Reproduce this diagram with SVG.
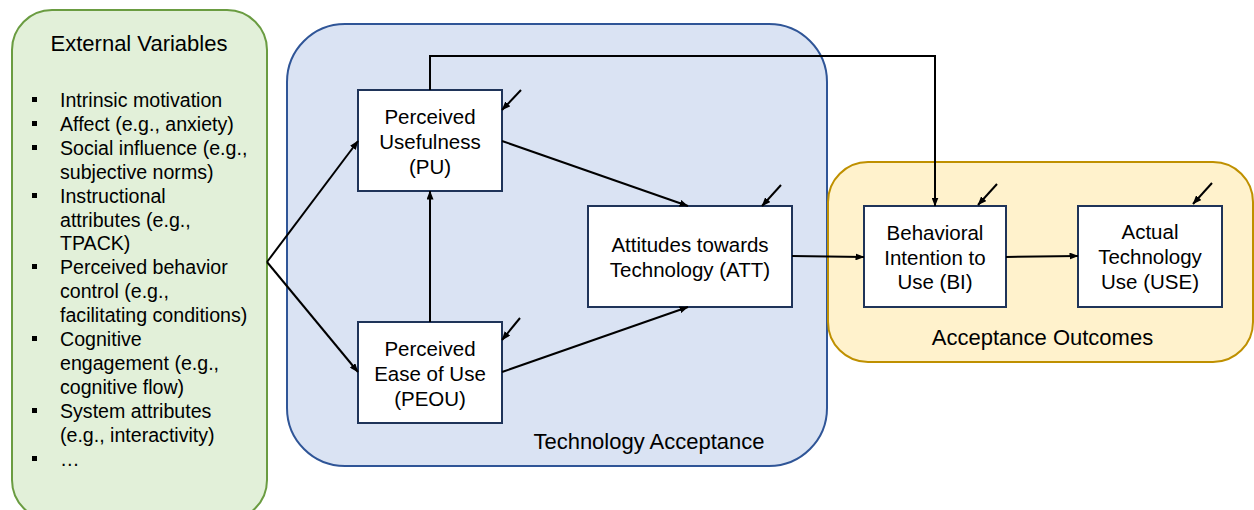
<svg xmlns="http://www.w3.org/2000/svg" width="1254" height="510" viewBox="0 0 1254 510">
<style>
text{font-family:"Liberation Sans",Arial,sans-serif;fill:#000}
.grp{font-size:22px;text-anchor:middle}
.node{font-size:20.5px;text-anchor:middle}
.bul{font-size:19.6px}
.box{fill:#fff;stroke:#1f3459;stroke-width:2}
.con{fill:none;stroke:#000;stroke-width:2;marker-end:url(#ah)}
</style>
<defs>
<marker id="ah" markerUnits="userSpaceOnUse" markerWidth="9" markerHeight="7" refX="8.5" refY="3.5" orient="auto">
<path d="M0,0 L9,3.5 L0,7 z" fill="#000"/>
</marker>
</defs>
<g id="external-variables">
<rect x="12" y="10" width="255" height="510" rx="40" fill="#e2f0d9" stroke="#6a9c41" stroke-width="2"/>
<text class="grp" x="139" y="51">External Variables</text>
<g fill="#000">
<rect x="32" y="97" width="5" height="5"/>
<rect x="32" y="121" width="5" height="5"/>
<rect x="32" y="145" width="5" height="5"/>
<rect x="32" y="193" width="5" height="5"/>
<rect x="32" y="264" width="5" height="5"/>
<rect x="32" y="336" width="5" height="5"/>
<rect x="32" y="408" width="5" height="5"/>
<rect x="32" y="456" width="5" height="5"/>
</g>
<text class="bul" x="60" y="107">Intrinsic motivation</text>
<text class="bul" x="60" y="130.9">Affect (e.g., anxiety)</text>
<text class="bul" x="60" y="154.8">Social influence (e.g.,</text>
<text class="bul" x="60" y="178.7">subjective norms)</text>
<text class="bul" x="60" y="202.6">Instructional</text>
<text class="bul" x="60" y="226.5">attributes (e.g.,</text>
<text class="bul" x="60" y="250.4">TPACK)</text>
<text class="bul" x="60" y="274.3">Perceived behavior</text>
<text class="bul" x="60" y="298.2">control (e.g.,</text>
<text class="bul" x="60" y="322.1">facilitating conditions)</text>
<text class="bul" x="60" y="346">Cognitive</text>
<text class="bul" x="60" y="369.9">engagement (e.g.,</text>
<text class="bul" x="60" y="393.8">cognitive flow)</text>
<text class="bul" x="60" y="417.7">System attributes</text>
<text class="bul" x="60" y="441.6">(e.g., interactivity)</text>
<text class="bul" x="60" y="465.5">…</text>
</g>
<g id="technology-acceptance">
<rect x="287" y="24" width="540" height="442" rx="58" fill="#dae3f3" stroke="#2f5597" stroke-width="2"/>
<text class="grp" x="649" y="448.5">Technology Acceptance</text>
</g>
<g id="acceptance-outcomes">
<rect x="828" y="162" width="425" height="200" rx="40" fill="#fff2cc" stroke="#bf9000" stroke-width="2"/>
<text class="grp" x="1042.5" y="345">Acceptance Outcomes</text>
</g>
<g id="PU">
<rect class="box" x="358" y="90" width="144" height="101"/>
<text class="node" x="430" y="123.5">Perceived</text>
<text class="node" x="430" y="148.5">Usefulness</text>
<text class="node" x="430" y="173.5">(PU)</text>
</g>
<g id="PEOU">
<rect class="box" x="358" y="322" width="144" height="101"/>
<text class="node" x="430" y="356">Perceived</text>
<text class="node" x="430" y="381">Ease of Use</text>
<text class="node" x="430" y="406">(PEOU)</text>
</g>
<g id="ATT">
<rect class="box" x="588" y="206" width="204" height="101"/>
<text class="node" x="690" y="252">Attitudes towards</text>
<text class="node" x="690" y="277">Technology (ATT)</text>
</g>
<g id="BI">
<rect class="box" x="864" y="206" width="142" height="101"/>
<text class="node" x="935" y="240">Behavioral</text>
<text class="node" x="935" y="264.7">Intention to</text>
<text class="node" x="935" y="289.4">Use (BI)</text>
</g>
<g id="USE">
<rect class="box" x="1078" y="206" width="144" height="101"/>
<text class="node" x="1150" y="239.3">Actual</text>
<text class="node" x="1150" y="264.3">Technology</text>
<text class="node" x="1150" y="289.3">Use (USE)</text>
</g>
<g id="connectors">
<path class="con" d="M267,262 L358,141"/>
<path class="con" d="M267,262 L358,372"/>
<path class="con" d="M430,322 L430,191"/>
<path class="con" d="M502,141 L688,206"/>
<path class="con" d="M502,372 L688,307"/>
<path class="con" d="M792,256 L864,257"/>
<path class="con" d="M430,90 L430,56 L935,56 L935,206"/>
<path class="con" d="M1006,257 L1078,256"/>
<path class="con" d="M521,90 L502,110"/>
<path class="con" d="M520,318 L502,340"/>
<path class="con" d="M781,185 L762,206"/>
<path class="con" d="M997,184 L978,205"/>
<path class="con" d="M1212,183 L1193,204"/>
</g>
</svg>
